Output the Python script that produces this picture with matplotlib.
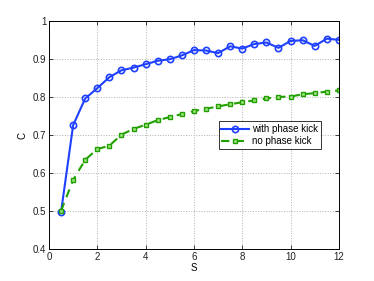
import matplotlib
matplotlib.use('Agg')
import matplotlib.pyplot as plt

plt.rcParams['font.family'] = ['Liberation Sans', 'DejaVu Sans']

s = [0.5, 1, 1.5, 2, 2.5, 3, 3.5, 4, 4.5, 5, 5.5, 6, 6.5, 7, 7.5, 8,
     8.5, 9, 9.5, 10, 10.5, 11, 11.5, 12]
with_kick = [0.498, 0.726, 0.796, 0.823, 0.852, 0.870, 0.877, 0.886,
             0.895, 0.899, 0.909, 0.923, 0.922, 0.915, 0.933, 0.927,
             0.939, 0.943, 0.929, 0.947, 0.949, 0.934, 0.953, 0.950]
no_kick = [0.501, 0.582, 0.635, 0.663, 0.672, 0.701, 0.716, 0.727,
           0.739, 0.747, 0.755, 0.763, 0.769, 0.775, 0.781, 0.786,
           0.791, 0.796, 0.800, 0.801, 0.807, 0.810, 0.814, 0.817]

fig = plt.figure(figsize=(3.74, 2.81), dpi=100)
ax = fig.add_axes([0.131, 0.113, 0.775, 0.813])

ax.plot(s, with_kick, '-o', color='#2040ff', lw=1.5, ms=4.5,
        mfc='none', mew=1.2, label='with phase kick')
ax.plot(s, no_kick, '--s', color='#20a000', lw=1.5, ms=3.5,
        mfc='#a0e080', mew=1.0, label='no phase kick', dashes=(4, 3))

ax.set_xlim(0, 12)
ax.set_ylim(0.4, 1)
ax.set_xticks([0, 2, 4, 6, 8, 10, 12])
ax.set_yticks([0.4, 0.5, 0.6, 0.7, 0.8, 0.9, 1])
ax.set_yticklabels(['0.4', '0.5', '0.6', '0.7', '0.8', '0.9', '1'])
ax.grid(True, linestyle=':', color='#b0b0b0', lw=0.7)
ax.tick_params(direction='in', top=True, right=True, labelsize=7,
               length=3, width=0.6, colors='#202020', pad=2)
for sp in ax.spines.values():
    sp.set_linewidth(0.7)
ax.set_xlabel('S', fontsize=7, labelpad=1)
ax.set_ylabel('C', fontsize=7, labelpad=4)

leg = ax.legend(loc='upper left', bbox_to_anchor=(0.585, 0.56), fontsize=7,
                numpoints=1, frameon=True, fancybox=False, borderpad=0.3,
                labelspacing=0.2, handlelength=2.8, handletextpad=0.3,
                borderaxespad=0)
leg.get_frame().set_edgecolor('black')
leg.get_frame().set_linewidth(0.7)

fig.savefig('out.png', dpi=100)
